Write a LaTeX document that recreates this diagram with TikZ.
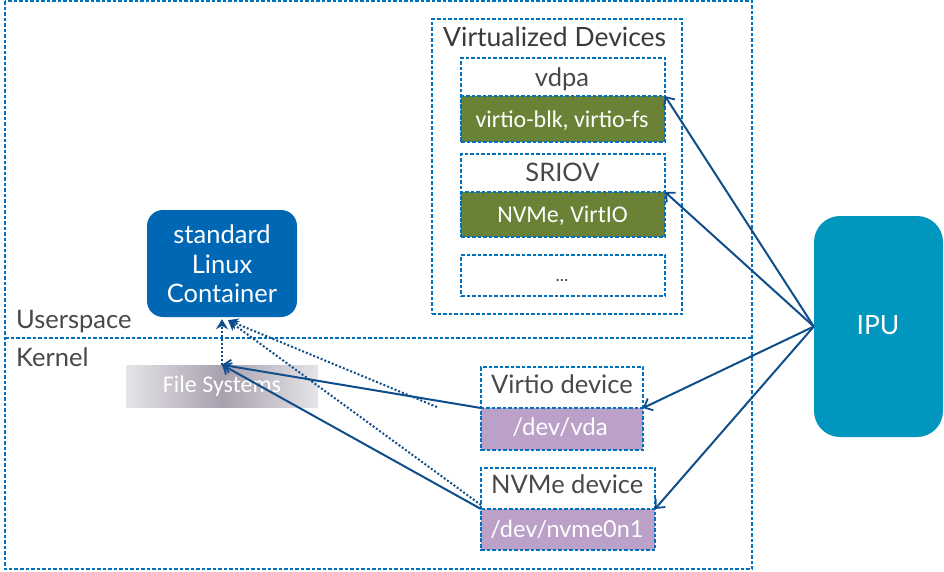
\documentclass[tikz,border=0pt]{standalone}
\usepackage{fontspec}
\setmainfont{Lato}
\newfontfamily\calfont{Carlito}
\usetikzlibrary{arrows.meta,calc}
\definecolor{dashblue}{RGB}{0,112,192}
\definecolor{lineblue}{RGB}{16,78,139}
\definecolor{contblue}{RGB}{0,103,180}
\definecolor{ipublue}{RGB}{0,150,190}
\definecolor{vgreen}{RGB}{106,130,53}
\definecolor{vpurple}{RGB}{187,160,200}
\definecolor{txtgray}{RGB}{72,72,72}
\definecolor{fsdark}{RGB}{168,160,174}
\definecolor{fslight}{RGB}{230,228,232}
\tikzset{
  dbox/.style={draw=dashblue, line width=1.2pt, dash pattern=on 3.5pt off 2pt},
  cell/.style={dbox, anchor=north west, inner sep=0pt, outer sep=0pt},
  lbl/.style={text=txtgray, font=\fontsize{25.5}{28}\selectfont, inner sep=0pt, anchor=base},
  wlbl/.style={text=white, font=\fontsize{24}{28}\selectfont, inner sep=0pt, anchor=base},
  clbl/.style={text=white, font=\calfont\fontsize{24}{28}\selectfont, inner sep=0pt, anchor=base},
  conn/.style={draw=lineblue, line width=2pt, -{Straight Barb[length=7pt,width=13pt,line width=1.8pt]}},
  dconn/.style={draw=lineblue, line width=2pt, dotted, -{Stealth[length=10pt,width=12pt]}},
}
\begin{document}
\begin{tikzpicture}[x=1pt,y=-1pt]
\useasboundingbox (0,0) rectangle (944,571);
% outer region
\draw[dbox] (5,1) rectangle (752,569);
\draw[dbox] (5,338) -- (752,338);
\node[lbl, anchor=base west] (us) at (16,328) {Userspace};
\node[lbl, anchor=base west] (kn) at (16,366) {Kernel};

% virtualized devices
\node[cell, minimum width=250pt, minimum height=295pt] (vd) at (432,19) {};
\node[lbl, anchor=base west, font=\fontsize{26.5}{28}\selectfont, text={rgb,255:red,58;green,58;blue,58}] (vdt) at (443,46) {Virtualized Devices};

\node[cell, fill=vgreen, minimum width=204pt, minimum height=46pt] (vdpag) at (461,96) {};
\node[cell, minimum width=204pt, minimum height=84pt] (vdpa) at (461,58) {};
\node[lbl] (vdpal) at (562,86) {vdpa};
\node[clbl] (vdpat) at (562,127) {virtio-blk, virtio-fs};

\node[cell, fill=vgreen, minimum width=204pt, minimum height=45pt] (sriovg) at (461,192) {};
\node[cell, minimum width=204pt, minimum height=83pt] (sriov) at (461,154) {};
\node[lbl] (sriovl) at (562.5,181) {SRIOV};
\node[clbl] (sriovt) at (562.5,222) {NVMe, VirtIO};

\node[cell, minimum width=204pt, minimum height=41pt] (more) at (461,255) {};
\node[lbl, font=\fontsize{18}{20}\selectfont] (morel) at (562,281) {...};

% kernel devices
\node[cell, fill=vpurple, minimum width=162pt, minimum height=42pt] (vdag) at (481,408) {};
\node[cell, minimum width=162pt, minimum height=83pt] (vdev) at (481,367) {};
\node[lbl, anchor=base west] (vdevl) at (491,393) {Virtio device};
\node[wlbl] (vdat) at (560,435) {/dev/vda};

\node[cell, fill=vpurple, minimum width=174pt, minimum height=41pt] (nvmeg) at (481,509) {};
\node[cell, minimum width=174pt, minimum height=82pt] (nvme) at (481,468) {};
\node[lbl, anchor=base west] (nvmel) at (491,493) {NVMe device};
\node[wlbl, font=\fontsize{23.5}{28}\selectfont] (nvmet) at (567,537) {/dev/nvme0n1};

% container
\node[fill=contblue, rounded corners=16pt, minimum width=150pt, minimum height=107pt, inner sep=0pt] (cont) at (222,263.5) {};
\node[wlbl, font=\fontsize{25.5}{28}\selectfont] (c1) at (222,243) {standard};
\node[wlbl, font=\fontsize{25.5}{28}\selectfont] (c2) at (222,273) {Linux};
\node[wlbl, font=\fontsize{25.5}{28}\selectfont] (c3) at (222,302) {Container};

% IPU
\node[fill=ipublue, rounded corners=26pt, minimum width=129pt, minimum height=221pt, inner sep=0pt] (ipu) at (878.5,326.5) {};
\node[wlbl, font=\fontsize{26.5}{28}\selectfont] (ipul) at (878,334) {IPU};

% file systems
\shade[left color=fslight, right color=fslight, middle color=fsdark] (126,365) rectangle (318,407);
\node[minimum width=192pt, minimum height=42pt, inner sep=0pt] (fs) at (222,386) {};
\node[clbl] (fsl) at (222,392) {File Systems};

% connectors from IPU
\draw[conn] (ipu.west) -- (vdpag.north east);
\draw[conn] (ipu.west) -- (sriovg.north east);
\draw[conn] (ipu.west) -- (vdag.north east);
\draw[conn] (ipu.west) -- (nvmeg.north east);

% to file systems
\draw[conn] (vdag.north west) -- (fs.north);
\draw[conn] (nvmeg.north west) -- (fs.north);

% dotted to container
\coordinate (d1) at (437,407);
\coordinate (ct) at ($(cont.south)+(6,3)$);
\draw[dconn] (fs.north) -- ($(cont.south)+(0,2)$);
\draw[dconn] (d1) -- (ct);
\draw[dconn] ($(nvmeg.north west)+(0,-4)$) -- (ct);
\end{tikzpicture}
\end{document}
